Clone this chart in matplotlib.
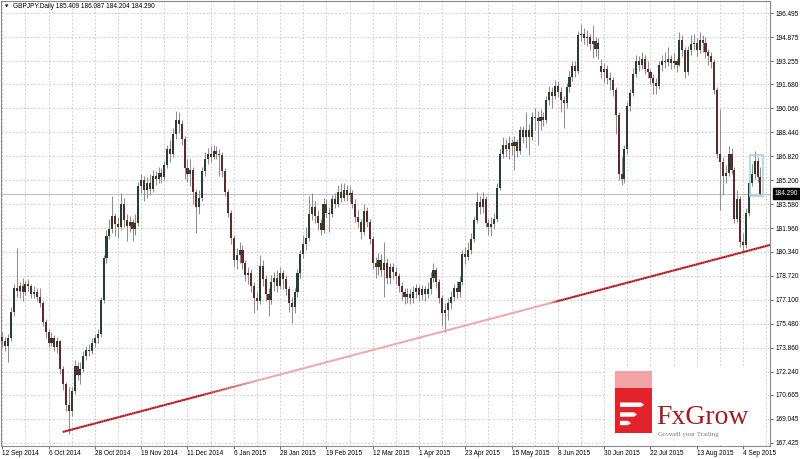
import matplotlib
matplotlib.use("Agg")
import matplotlib.pyplot as plt
import numpy as np
from matplotlib.patches import Rectangle, Polygon

plt.rcParams['font.family'] = ['Liberation Sans', 'DejaVu Sans']

# ---------------- data ----------------
symbol_title = "GBPJPY.Daily 185.409 186.087 184.204 184.290"
last_close = 184.290

closes = [
    174.3, 174.0, 174.5, 176.3, 177.9, 177.7, 178.0, 177.6, 178.2, 178.0,
    177.5, 177.6, 177.3, 176.9, 175.6, 174.9, 174.2, 174.5, 173.9, 174.3,
    172.4, 171.4, 170.0, 169.6, 170.9, 172.6, 172.0, 172.4, 173.3, 173.7,
    173.6, 174.2, 174.5, 174.8, 177.1, 179.9, 181.4, 181.9, 182.8, 182.2,
    182.0, 183.6, 182.5, 182.1, 182.4, 181.9, 182.3, 184.8, 185.2, 184.5,
    185.0, 184.6, 185.5, 185.3, 185.7, 185.4, 186.2, 187.3, 187.0, 188.3,
    189.3, 189.0, 188.0, 186.0, 185.6, 185.9, 184.4, 183.4, 184.0, 185.8,
    186.6, 187.0, 186.8, 187.2, 187.0, 186.9, 185.8, 184.4, 183.0, 181.3,
    179.8, 180.1, 180.5, 179.6, 178.8, 178.9, 178.0, 177.2, 177.0, 179.4,
    178.5, 177.5, 177.1, 178.3, 178.6, 178.0, 178.9, 178.5, 177.8, 176.9,
    176.6, 177.6, 178.9, 180.2, 180.9, 181.3, 182.9, 183.4, 182.8, 182.3,
    181.8, 183.6, 183.0, 182.9, 183.9, 183.6, 184.4, 184.0, 184.5, 184.2,
    184.3, 183.6, 182.7, 182.4, 181.7, 183.1, 182.4, 181.2, 179.6, 179.3,
    179.8, 179.1, 179.6, 178.6, 179.3, 179.0, 178.7, 178.0, 177.6, 177.3,
    177.5, 177.2, 177.6, 177.9, 177.4, 177.8, 177.5, 177.8, 178.6, 179.1,
    178.3, 177.2, 176.2, 176.4, 176.9, 177.3, 177.9, 177.6, 178.3, 180.2,
    180.0, 180.5, 181.2, 182.5, 183.7, 183.4, 183.9, 182.3, 182.0, 182.2,
    182.6, 184.7, 187.0, 187.6, 187.3, 187.7, 187.5, 187.8, 187.2, 188.6,
    188.1, 188.6, 188.1, 189.5, 189.4, 189.2, 189.5, 189.3, 190.6, 191.2,
    190.9, 191.6, 191.2, 190.6, 190.4, 191.5, 192.2, 192.9, 192.6, 195.0,
    195.1, 194.8, 194.9, 194.4, 194.6, 194.1, 194.5, 192.5, 192.7, 192.1,
    192.0, 191.3, 189.6, 185.6, 185.3, 187.3, 190.2, 191.1, 192.4, 193.3,
    193.0, 193.4, 192.7, 192.5, 192.1, 191.8, 191.6, 193.0, 193.3, 193.2,
    193.4, 193.1, 193.3, 193.0, 194.7, 194.0, 192.5, 194.0, 194.4, 194.5,
    194.0, 194.7, 194.5, 193.9, 193.6, 193.2, 191.3, 187.0, 186.4, 185.5,
    185.7, 187.0, 185.9, 182.6, 183.9, 181.0, 180.8, 183.0, 185.0, 185.6,
    186.5, 185.409, 184.290,
]

highs = [
    174.9, 174.6, 174.8, 176.6, 178.2, 180.6, 178.3, 178.6, 178.4, 178.5,
    178.2, 178.0, 177.9, 177.9, 177.0, 175.8, 175.1, 174.9, 174.7, 174.6,
    174.4, 172.6, 171.5, 171.2, 171.2, 173.0, 172.9, 172.9, 173.6, 174.0,
    174.1, 174.5, 174.8, 175.1, 177.3, 180.1, 181.8, 182.6, 184.1, 183.0,
    182.7, 184.3, 184.0, 182.9, 182.8, 182.6, 182.9, 185.1, 185.6, 185.5,
    185.4, 185.6, 185.9, 185.8, 186.1, 186.0, 186.5, 187.6, 187.9, 188.7,
    189.9, 189.8, 189.3, 188.2, 186.6, 186.6, 186.1, 184.6, 184.5, 186.1,
    187.1, 187.4, 187.5, 187.6, 187.5, 187.3, 187.1, 186.0, 184.6, 183.2,
    181.5, 180.6, 181.0, 180.8, 179.8, 179.3, 179.2, 178.3, 177.6, 180.1,
    179.8, 178.8, 177.9, 178.8, 179.0, 179.1, 179.3, 179.1, 178.8, 178.0,
    177.3, 177.9, 179.2, 180.5, 181.5, 182.0, 184.1, 184.3, 183.8, 183.2,
    182.6, 184.0, 183.9, 183.4, 184.2, 184.3, 184.9, 185.0, 185.0, 184.9,
    184.8, 184.5, 183.9, 183.2, 182.6, 183.6, 183.4, 182.6, 181.4, 180.0,
    180.3, 180.2, 181.0, 179.9, 179.6, 179.6, 179.3, 178.9, 178.3, 177.9,
    177.9, 177.8, 178.0, 178.2, 178.1, 178.1, 178.0, 178.3, 179.0, 179.6,
    179.3, 178.5, 177.4, 176.9, 177.2, 177.7, 178.2, 178.4, 178.7, 180.5,
    180.7, 181.0, 181.6, 182.8, 184.4, 184.1, 184.4, 184.1, 182.6, 182.7,
    183.0, 185.0, 187.3, 188.1, 188.0, 188.2, 188.0, 188.2, 188.0, 188.9,
    188.9, 189.8, 189.0, 189.8, 190.1, 189.9, 190.0, 189.8, 190.9, 191.6,
    191.5, 192.0, 191.9, 191.5, 190.9, 191.8, 192.6, 193.3, 193.3, 195.3,
    195.8, 195.5, 195.4, 195.1, 195.7, 194.9, 194.8, 193.4, 193.1, 193.0,
    192.5, 192.2, 191.5, 189.8, 186.8, 187.6, 190.5, 191.4, 192.8, 193.7,
    193.6, 193.9, 193.7, 193.3, 192.7, 192.4, 192.1, 193.3, 193.7, 193.9,
    194.2, 193.7, 193.8, 193.5, 195.2, 195.0, 194.2, 194.3, 195.0, 195.1,
    194.8, 195.2, 195.0, 194.9, 194.1, 193.9, 193.4, 191.5, 190.0, 186.8,
    186.2, 187.5, 187.4, 186.1, 184.5, 184.1, 181.6, 183.3, 185.3, 186.3,
    187.2, 186.8, 186.087,
]

lows = [
    173.9, 173.6, 172.9, 174.3, 176.0, 177.3, 177.2, 177.0, 177.4, 177.7,
    177.2, 177.2, 177.0, 176.6, 175.3, 174.5, 173.9, 174.0, 173.6, 173.5,
    172.1, 171.0, 169.6, 168.0, 169.2, 170.7, 171.7, 171.4, 172.2, 173.0,
    173.3, 173.4, 173.9, 174.2, 174.6, 176.9, 179.6, 181.2, 181.6, 181.4,
    181.3, 181.8, 182.0, 181.1, 181.7, 181.1, 181.5, 182.1, 184.3, 183.8,
    184.0, 184.2, 184.4, 184.9, 185.0, 185.0, 185.2, 186.0, 186.4, 186.8,
    188.0, 188.4, 187.6, 185.3, 185.1, 184.8, 183.6, 181.6, 182.9, 183.8,
    185.5, 186.3, 186.4, 186.6, 186.6, 185.5, 185.4, 184.1, 182.7, 180.9,
    179.3, 179.2, 179.6, 179.2, 178.4, 178.2, 177.6, 176.2, 176.4, 176.8,
    178.0, 177.0, 176.0, 176.8, 177.7, 177.6, 177.8, 177.8, 177.4, 176.3,
    175.5, 176.2, 177.3, 178.6, 179.9, 180.5, 181.1, 182.5, 182.3, 181.8,
    181.5, 181.6, 182.7, 181.7, 182.7, 183.3, 183.4, 183.7, 183.8, 183.8,
    183.7, 183.3, 182.4, 182.0, 181.2, 181.5, 182.0, 180.9, 179.2, 178.6,
    178.8, 178.7, 177.3, 178.2, 178.2, 178.5, 178.2, 177.6, 177.1, 176.8,
    176.9, 176.8, 176.9, 177.2, 177.0, 177.1, 177.0, 177.2, 177.5, 178.3,
    177.9, 176.9, 175.3, 174.9, 175.7, 176.5, 177.0, 177.2, 177.3, 178.1,
    179.5, 179.8, 180.2, 181.0, 182.3, 182.9, 183.0, 182.0, 181.5, 181.4,
    181.9, 182.4, 184.5, 186.7, 186.8, 186.6, 186.9, 185.9, 186.8, 187.0,
    187.7, 187.4, 186.9, 187.9, 188.6, 187.6, 188.6, 188.9, 189.1, 190.3,
    190.1, 190.7, 190.8, 189.8, 188.7, 190.1, 191.2, 191.9, 192.2, 192.4,
    194.6, 194.4, 194.3, 194.0, 193.5, 193.6, 193.4, 192.1, 191.8, 191.7,
    191.3, 190.9, 188.3, 185.2, 184.9, 185.0, 187.0, 189.9, 190.9, 192.2,
    192.6, 192.7, 192.4, 192.1, 191.7, 191.0, 191.0, 191.4, 192.6, 192.8,
    192.9, 192.7, 192.8, 192.5, 192.9, 193.6, 192.1, 192.3, 193.7, 194.0,
    193.6, 193.8, 193.9, 193.5, 193.0, 192.8, 191.0, 186.7, 183.2, 184.2,
    185.0, 185.5, 185.6, 182.3, 182.4, 180.7, 180.3, 180.6, 182.8, 184.8,
    185.3, 185.1, 184.204,
]

first_open = 174.6
gap_opens = {207: 192.9, 261: 186.5, 262: 185.409}

date_labels = ["12 Sep 2014", "6 Oct 2014", "28 Oct 2014", "19 Nov 2014",
               "11 Dec 2014", "6 Jan 2015", "28 Jan 2015", "19 Feb 2015",
               "12 Mar 2015", "1 Apr 2015", "23 Apr 2015", "15 May 2015",
               "8 Jun 2015", "30 Jun 2015", "22 Jul 2015", "13 Aug 2015",
               "4 Sep 2015"]
bars_per_label = 16

price_ticks = [196.495, 194.875, 193.255, 191.680, 190.060, 188.440, 186.820,
               185.200, 183.580, 181.960, 180.340, 178.720, 177.100, 175.480,
               173.860, 172.240, 170.665, 169.045, 167.425]

# trend line anchor points (bar index, price)
trend_x = [20.87, 265.3]
trend_y = [168.15, 180.81]

# ---------------- figure ----------------
W, H = 800, 459
fig = plt.figure(figsize=(W / 100, H / 100), dpi=100)
fig.patch.set_facecolor('white')

def fx(px):
    return px / W

def fy(py):
    return 1 - py / H

ax = fig.add_axes([fx(1), fy(446), fx(770) - fx(1), fy(1) - fy(446)])
ax.set_facecolor('white')

n = len(closes)
idx = np.arange(n)
opens = [first_open] + closes[:-1]
for k, v in gap_opens.items():
    opens[k] = v
o = np.array(opens)
c = np.array(closes)
hi = np.array(highs)
lo = np.array(lows)

grid_col = '#c9c9c9'
dash = (0, (2.2, 2.2))

# grid
for p in price_ticks:
    ax.axhline(p, color=grid_col, lw=0.6, ls=dash, zorder=0)
for g in range(0, 270, 8):
    ax.axvline(g, color=grid_col, lw=0.6, ls=dash, zorder=0)

# current price line
ax.axhline(last_close, color='#c0c0c0', lw=0.8, zorder=1)

# candles
bull = c >= o
ax.vlines(idx, lo, hi, colors='#8e8e8e', lw=0.75, zorder=2)
body_bot = np.minimum(o, c)
body_h = np.maximum(np.abs(c - o), 0.06)
ax.bar(idx[bull], body_h[bull], bottom=body_bot[bull], width=0.72,
       color='#283f2f', edgecolor='none', zorder=3)
ax.bar(idx[~bull], body_h[~bull], bottom=body_bot[~bull], width=0.72,
       color='#5e2a2a', edgecolor='none', zorder=3)

# trend line with colour shading along its length
dark = np.array(matplotlib.colors.to_rgb('#b3171d'))
pink = np.array(matplotlib.colors.to_rgb('#eba5a7'))
seg_x = np.linspace(trend_x[0], trend_x[1], 400)
seg_y = np.interp(seg_x, trend_x, trend_y)
def shade(i):
    if i < 68:
        return 0.0
    if i < 88:
        return (i - 68) / 20
    if i < 189:
        return 1.0
    if i < 192:
        return 1 - (i - 189) / 3
    return 0.0
for a in range(len(seg_x) - 1):
    t = shade(seg_x[a])
    col = dark * (1 - t) + pink * t
    ax.plot(seg_x[a:a + 2], seg_y[a:a + 2], color=col, lw=1.5,
            solid_capstyle='butt', zorder=4)

# selection box around last bars
ax.add_patch(Rectangle((258.4, 184.15), 4.4, 2.75, fill=False,
                       edgecolor='#a8d4e4', lw=1.2, zorder=5))

ax.set_xlim(-0.45, 265.3)
ax.set_ylim(167.20, 197.33)

# axes styling
for s in ax.spines.values():
    s.set_color('#8a8a8a')
    s.set_linewidth(0.8)

ax.yaxis.tick_right()
ax.set_yticks(price_ticks)
ax.set_yticklabels([f"{p:.3f}" for p in price_ticks])
ax.tick_params(axis='y', length=2.2, width=0.6, color='#555555', pad=1.5,
               labelsize=4.7, labelcolor='black')

xt = [k * bars_per_label for k in range(len(date_labels))]
ax.set_xticks(xt)
ax.set_xticklabels(date_labels, ha='left')
ax.tick_params(axis='x', length=2.0, width=0.6, color='#555555', pad=0.8,
               labelsize=4.7, labelcolor='black')

# last price marker on the axis
ax.annotate(f"{last_close:.3f}", xy=(1, last_close),
            xycoords=('axes fraction', 'data'), xytext=(3.2, 0),
            textcoords='offset points', va='center', ha='left',
            fontsize=4.7, color='white',
            bbox=dict(boxstyle='square,pad=0.25', fc='black', ec='black'),
            annotation_clip=False, zorder=10)

# title
fig.text(fx(5), fy(7), '\u25BC', fontsize=3.2, family=['DejaVu Sans'],
         va='center', ha='left', color='black')
fig.text(fx(13), fy(7), symbol_title, fontsize=4.7, va='center', ha='left',
         color='black')

# ---------------- logo ----------------
def frect(x0, y0, x1, y1, **kw):
    r = Rectangle((fx(x0), fy(y1)), fx(x1) - fx(x0), fy(y0) - fy(y1),
                  transform=fig.transFigure, **kw)
    fig.add_artist(r)

frect(606, 368, 766, 445, facecolor='white', edgecolor='none')
frect(615, 371, 652, 388, facecolor='#f2a3a5', edgecolor='none')
frect(615, 388, 652, 433, facecolor='#e3232b', edgecolor='none')
for (yc, x1) in [(404.7, 644), (414.5, 637), (423.0, 631)]:
    hh = 2.2
    pts = [(fx(620), fy(yc - hh)), (fx(x1 - 3), fy(yc - hh)),
           (fx(x1), fy(yc)), (fx(x1 - 3), fy(yc + hh)),
           (fx(620), fy(yc + hh))]
    fig.add_artist(Polygon(pts, closed=True, transform=fig.transFigure,
                           facecolor='white', edgecolor='none'))
fig.text(fx(656), fy(423.5), 'FxGrow', fontsize=20,
         family=['Liberation Serif', 'DejaVu Serif'], color='#a31b23',
         ha='left', va='baseline')
fig.text(fx(658), fy(434.5), 'Growell your Trading', fontsize=5.0,
         family=['Liberation Serif', 'DejaVu Serif'], color='#7d7d7d',
         ha='left', va='center')

fig.savefig('out.png', dpi=100, facecolor='white')
